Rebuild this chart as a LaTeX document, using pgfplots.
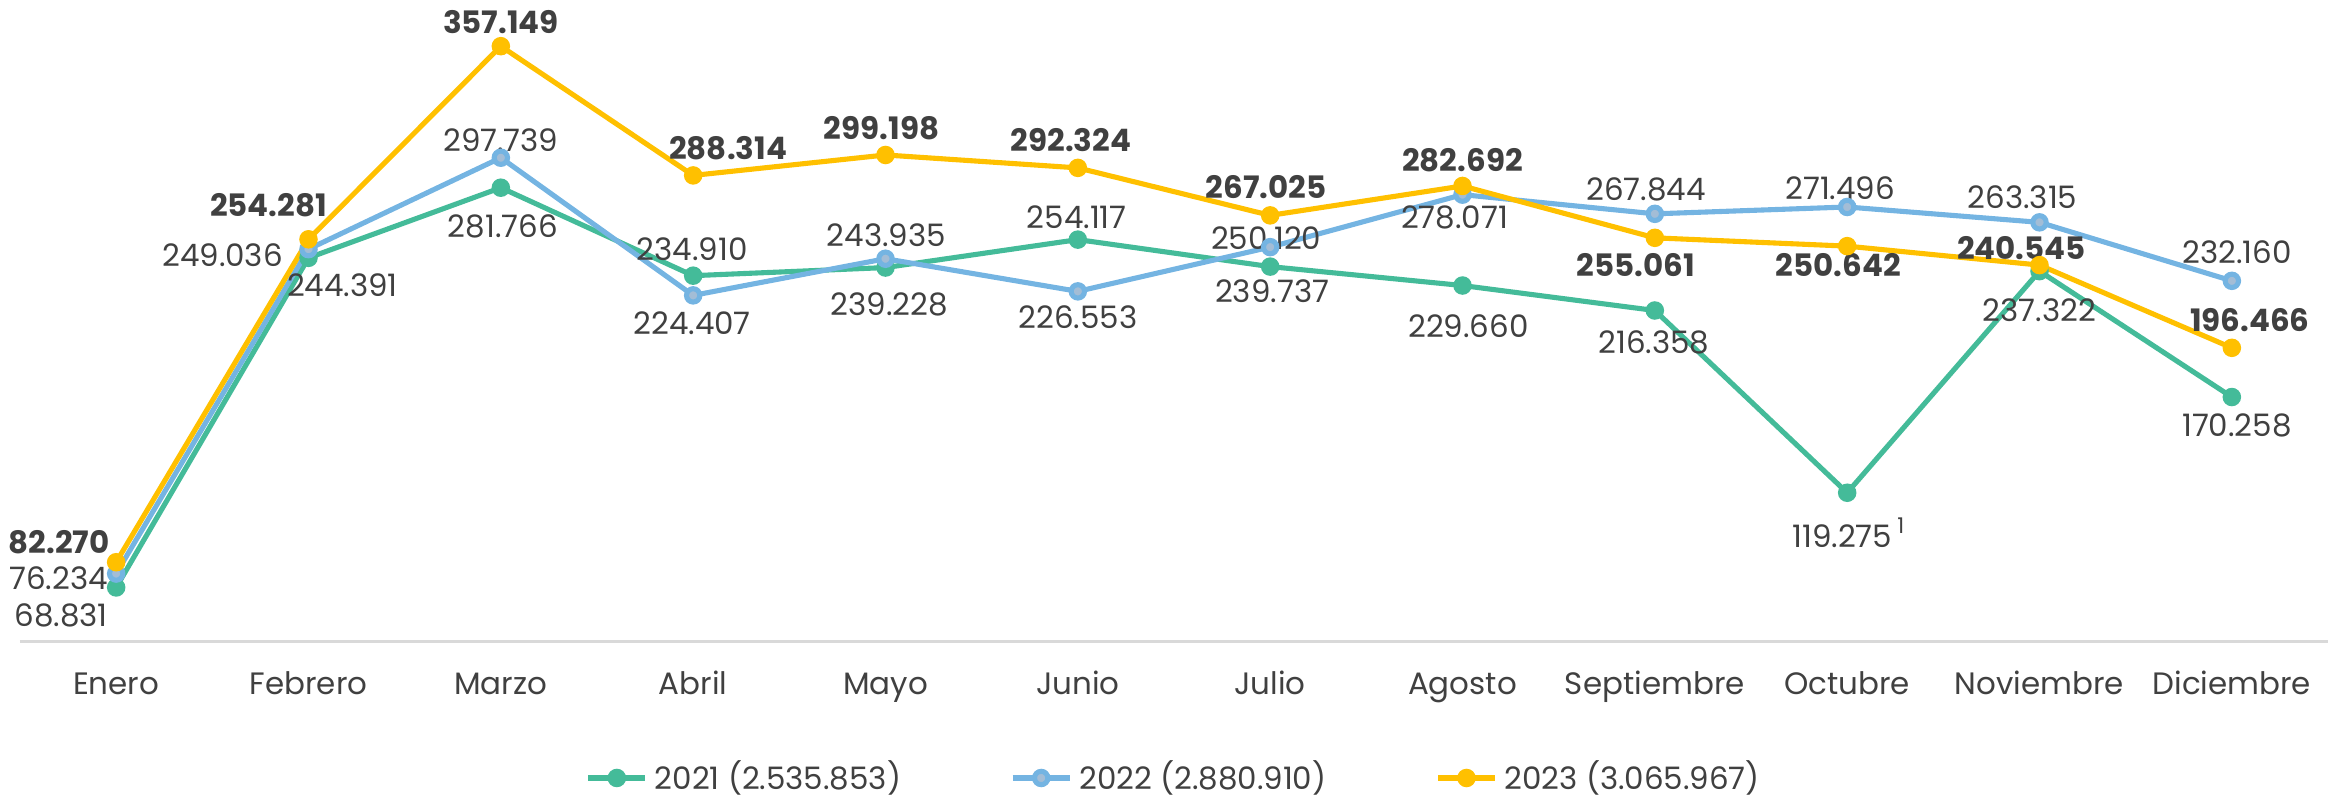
\documentclass[border=0pt]{standalone}
\usepackage{pgfplots}
\pgfplotsset{compat=1.18}
\usepackage{fontspec}
\setmainfont{Poppins}

\definecolor{g21}{RGB}{68,187,153}
\definecolor{b22}{RGB}{116,180,226}
\definecolor{b22f}{RGB}{163,189,214}
\definecolor{y23}{RGB}{255,192,0}
\definecolor{txt}{RGB}{64,64,64}
\definecolor{axl}{RGB}{217,217,217}

\newcommand{\lf}{\fontsize{8.8pt}{10.5pt}\selectfont}
% label: [extra style]{x}{y}{dx px}{dy px}{text}; 1 px = 0.01cm
\newcommand{\lab}[6][]{\node[lbl,#1,xshift=(#4)*0.01cm,yshift=(#5)*0.01cm] at (axis cs:#2,#3) {#6};}

\tikzset{lbl/.style={inner sep=0pt, text=txt, font=\lf, anchor=center},
         blbl/.style={lbl, font=\lf\bfseries}}

\begin{document}
\begin{tikzpicture}
\useasboundingbox (0,0) rectangle (23.38,7.98);
\begin{axis}[
    at={(0.20cm,1.564cm)}, anchor=south west,
    scale only axis,
    width=23.08cm, height=6.383cm,
    xmin=-0.5, xmax=11.5,
    ymin=40000, ymax=380000,
    axis y line=none,
    axis x line*=bottom,
    x axis line style={draw=axl, line width=1pt, -},
    xtick={0,...,11},
    xticklabels={Enero,Febrero,Marzo,Abril,Mayo,Junio,Julio,Agosto,Septiembre,Octubre,Noviembre,Diciembre},
    major tick length=0pt,
    xticklabel style={font=\lf, text=txt, anchor=base, yshift=-0.53cm, inner sep=0pt},
    clip=false,
    legend columns=3,
    legend style={at={(0.501,-0.2137)}, anchor=center, draw=none, fill=none,
        font=\lf, text=txt, inner sep=0pt,
        /tikz/every even column/.append style={column sep=1.02cm}},
    legend image code/.code={
        \draw[#1, mark repeat=2, mark phase=2] plot coordinates {(0cm,0cm) (0.285cm,0cm) (0.57cm,0cm)};},
]
\addplot[g21, line width=1.45pt, mark=*, mark size=1.9pt, mark options={fill=g21, draw=g21}] coordinates {
    (0,68831) (1,244391) (2,281766) (3,234910) (4,239228) (5,254117)
    (6,239737) (7,229660) (8,216358) (9,119275) (10,237322) (11,170258)};
\addplot[b22, line width=1.45pt, mark=*, mark size=1.9pt, mark options={fill=b22f, draw=b22}] coordinates {
    (0,76234) (1,249036) (2,297739) (3,224407) (4,243935) (5,226553)
    (6,250120) (7,278071) (8,267844) (9,271496) (10,263315) (11,232160)};
\addplot[y23, line width=1.45pt, mark=*, mark size=1.9pt, mark options={fill=y23, draw=y23}] coordinates {
    (0,82270) (1,254281) (2,357149) (3,288314) (4,299198) (5,292324)
    (6,267025) (7,282692) (8,255061) (9,250642) (10,240545) (11,196466)};
\legend{2021 (2.535.853), 2022 (2.880.910), 2023 (3.065.967)}

% 2021
\lab[anchor=east]{0}{68831}{-7.6}{-27.5}{68.831}
\lab{1}{244391}{34}{-27}{244.391}
\lab{2}{281766}{2}{-39}{281.766}
\lab{3}{234910}{-1}{26}{234.910}
\lab{4}{239228}{4}{-37}{239.228}
\lab{5}{254117}{-1}{22}{254.117}
\lab{6}{239737}{2}{-25}{239.737}
\lab{7}{229660}{6}{-41}{229.660}
\lab{8}{216358}{-1}{-32}{216.358}
\lab{9}{119275}{-5}{-40}{119.275\rlap{\,\textsuperscript{1}}}
\lab{10}{237322}{0}{-39}{237.322}
\lab{11}{170258}{5}{-28}{170.258}
% 2022
\lab[anchor=east]{0}{76234}{-7.6}{-4.4}{76.234}
\lab{1}{249036}{-86}{-6}{249.036}
\lab{2}{297739}{0}{18}{297.739}
\lab{3}{224407}{-1}{-28}{224.407}
\lab{4}{243935}{1}{24}{243.935}
\lab{5}{226553}{0}{-26}{226.553}
\lab{6}{250120}{-4}{9}{250.120}
\lab{7}{278071}{-8}{-23}{278.071}
\lab{8}{267844}{-9}{24}{267.844}
\lab{9}{271496}{-7}{19}{271.496}
\lab{10}{263315}{-17}{25}{263.315}
\lab{11}{232160}{5}{29}{232.160}
% 2023
\lab[blbl,anchor=east]{0}{82270}{-6}{20}{82.270}
\lab[blbl]{1}{254281}{-40}{34}{254.281}
\lab[blbl]{2}{357149}{0}{24}{357.149}
\lab[blbl]{3}{288314}{35}{27}{288.314}
\lab[blbl]{4}{299198}{-4}{27}{299.198}
\lab[blbl]{5}{292324}{-7}{28}{292.324}
\lab[blbl]{6}{267025}{-4}{28}{267.025}
\lab[blbl]{7}{282692}{0}{26}{282.692}
\lab[blbl]{8}{255061}{-19}{-27}{255.061}
\lab[blbl]{9}{250642}{-9}{-19}{250.642}
\lab[blbl]{10}{240545}{-18}{17}{240.545}
\lab[blbl]{11}{196466}{18}{28}{196.466}
\end{axis}
\end{tikzpicture}
\end{document}
